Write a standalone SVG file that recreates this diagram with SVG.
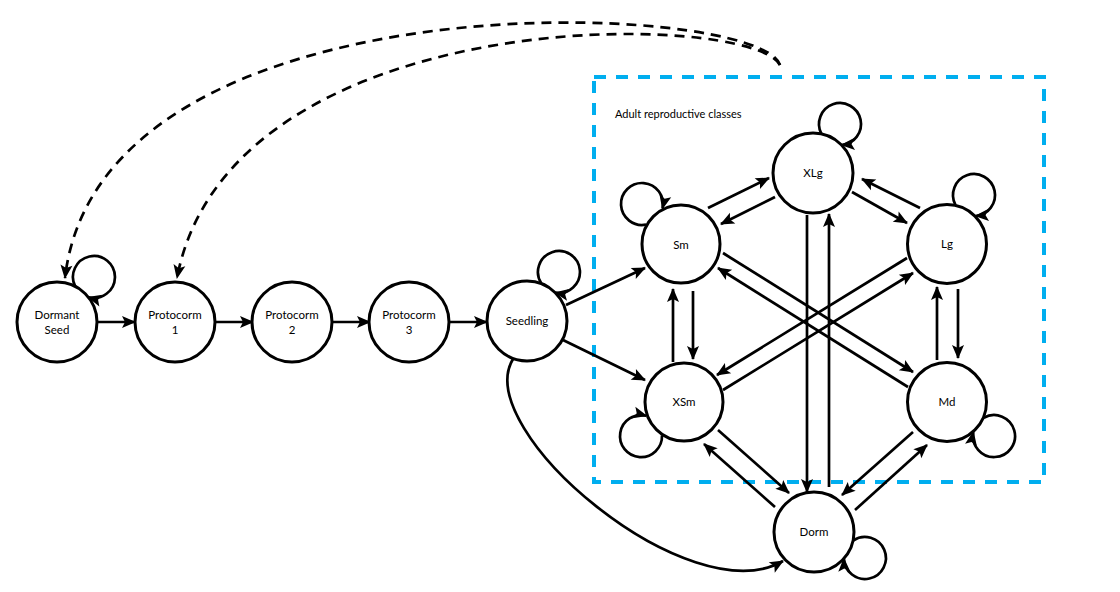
<svg xmlns="http://www.w3.org/2000/svg" width="1120" height="592" viewBox="0 0 1120 592">
<style>
.node circle{fill:#fff;stroke:#000;stroke-width:3}
.node text,.lbl{font-family:Lato,"Open Sans","Liberation Sans",sans-serif;font-size:11.5px;fill:#000;text-anchor:middle}
.lbl{text-anchor:start;font-size:11px}
.e{fill:none;stroke:#000;stroke-width:2.7;marker-end:url(#ah)}
.d{fill:none;stroke:#000;stroke-width:2.7;stroke-dasharray:10 7;marker-end:url(#ah)}
.box{fill:none;stroke:#00AEEF;stroke-width:4;stroke-dasharray:12 10}
</style>
<defs>
<marker id="ah" markerUnits="userSpaceOnUse" markerWidth="16" markerHeight="12" refX="13" refY="6" orient="auto" overflow="visible">
<path d="M0,0 L14,6 L0,12 L3,6 z" fill="#000"/>
</marker>
</defs>
<rect width="1120" height="592" fill="#fff"/>
<rect class="box" x="594" y="77" width="450" height="405"/>
<text class="lbl" x="615" y="118">Adult reproductive classes</text>
<g id="connectors">
<path class="d" d="M780 65 C760 0 100 -30 65 278"/>
<path class="d" d="M780 65 C750 10 230 0 177 278"/>
<path class="e" d="M97 322 H135"/>
<path class="e" d="M215 322 H253"/>
<path class="e" d="M332 322 H370"/>
<path class="e" d="M449 322 H487"/>
<path class="e" d="M566 305 L645 268"/>
<path class="e" d="M563 340 L645 380"/>
<path class="e" d="M513 359 C470 430 690 615 783 561"/>
<path class="e" d="M708 208 L769 178"/>
<path class="e" d="M775 197 L721 224"/>
<path class="e" d="M852 192 L907 223"/>
<path class="e" d="M920 208 L862 179"/>
<path class="e" d="M673 362 L673 289"/>
<path class="e" d="M693 291 L693 359"/>
<path class="e" d="M937 360 L937 287"/>
<path class="e" d="M958 289 L958 358"/>
<path class="e" d="M807 215 L807 492"/>
<path class="e" d="M829 487 L829 214"/>
<path class="e" d="M718 430 L789 493"/>
<path class="e" d="M775 507 L704 444"/>
<path class="e" d="M913 432 L842 495"/>
<path class="e" d="M855 510 L927 445"/>
<path class="e" d="M723 253 L913 372"/>
<path class="e" d="M908 387 L718 268"/>
<path class="e" d="M907 258 L717 375"/>
<path class="e" d="M723 390 L913 273"/>
<path class="e" d="M75.2 286.4 A21 21 0 1 1 88.4 297.2"/>
<path class="e" d="M541.5 283.7 A21 21 0 1 1 555.3 292.7"/>
<path class="e" d="M646.1 224.6 A21 21 0 1 1 662.5 208.6"/>
<path class="e" d="M821.4 133.8 A21 21 0 1 1 841.6 145"/>
<path class="e" d="M955.4 204.8 A21 21 0 1 1 975.6 216"/>
<path class="e" d="M662 435.4 A21 21 0 1 1 646.4 415.8"/>
<path class="e" d="M983.8 417.7 A21 21 0 1 1 973.4 432.1"/>
<path class="e" d="M853.1 540.6 A21 21 0 1 1 843.9 558.6"/>
</g>
<g id="n-dormant-seed" class="node"><circle cx="57" cy="322" r="40"/><text x="57" y="319">Dormant</text><text x="57" y="334">Seed</text></g>
<g id="n-protocorm1" class="node"><circle cx="175" cy="322" r="40"/><text x="175" y="319">Protocorm</text><text x="175" y="334">1</text></g>
<g id="n-protocorm2" class="node"><circle cx="292" cy="322" r="40"/><text x="292" y="319">Protocorm</text><text x="292" y="334">2</text></g>
<g id="n-protocorm3" class="node"><circle cx="409" cy="322" r="40"/><text x="409" y="319">Protocorm</text><text x="409" y="334">3</text></g>
<g id="n-seedling" class="node"><circle cx="527" cy="321" r="40"/><text x="527" y="325">Seedling</text></g>
<g id="n-sm" class="node"><circle cx="681" cy="244" r="39"/><text x="681" y="249">Sm</text></g>
<g id="n-xlg" class="node"><circle cx="813" cy="173" r="40"/><text x="813" y="177">XLg</text></g>
<g id="n-lg" class="node"><circle cx="947" cy="244" r="39.5"/><text x="947" y="248">Lg</text></g>
<g id="n-xsm" class="node"><circle cx="684" cy="402" r="39"/><text x="684" y="406">XSm</text></g>
<g id="n-md" class="node"><circle cx="947" cy="402" r="39.5"/><text x="947" y="406">Md</text></g>
<g id="n-dorm" class="node"><circle cx="814" cy="532" r="40"/><text x="814" y="536">Dorm</text></g>
</svg>
